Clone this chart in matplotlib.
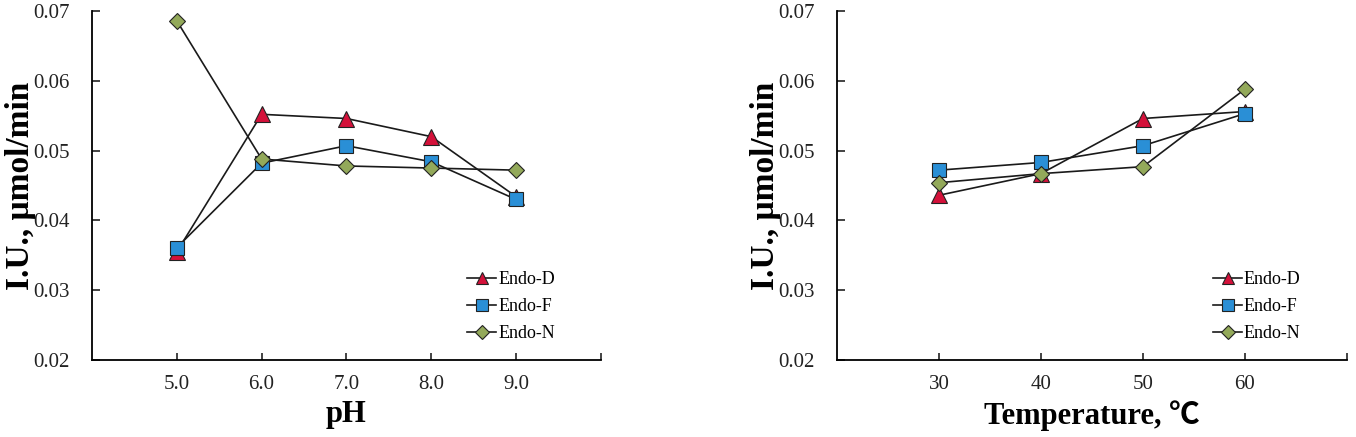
import matplotlib
matplotlib.use("Agg")
import matplotlib.pyplot as plt
from matplotlib.ticker import FixedLocator

plt.rcParams["font.family"] = ["Liberation Serif", "Noto Sans CJK SC", "DejaVu Serif"]

series = ["Endo-D", "Endo-F", "Endo-N"]

ph = [5.0, 6.0, 7.0, 8.0, 9.0]
ph_labels = ["5.0", "6.0", "7.0", "8.0", "9.0"]
ph_endo_d = [0.0355, 0.0552, 0.0546, 0.0520, 0.0434]
ph_endo_f = [0.0361, 0.0482, 0.0507, 0.0484, 0.0430]
ph_endo_n = [0.0686, 0.0488, 0.0478, 0.0475, 0.0472]

temp = [30, 40, 50, 60]
temp_labels = ["30", "40", "50", "60"]
temp_endo_d = [0.0436, 0.0467, 0.0546, 0.0556]
temp_endo_f = [0.0472, 0.0483, 0.0507, 0.0553]
temp_endo_n = [0.0454, 0.0467, 0.0477, 0.0588]

y_ticks = [0.02, 0.03, 0.04, 0.05, 0.06, 0.07]

styles = {
    "Endo-D": dict(marker="^", mfc="#d4113a", ms=11),
    "Endo-F": dict(marker="s", mfc="#2a8fd6", ms=10),
    "Endo-N": dict(marker="D", mfc="#93a95a", ms=8),
}


def draw(ax, x, ys, labels, xlim, xlabel):
    for name, y in zip(series, ys):
        st = styles[name]
        ax.plot(x, y, color="#1a1a1a", lw=1.2, marker=st["marker"],
                mfc=st["mfc"], mec="#222222", mew=0.8, ms=st["ms"], label=name)
    ax.set_xlim(*xlim)
    ax.set_ylim(0.02, 0.07)
    ax.set_xticks(x)
    ax.set_xticklabels(labels)
    ax.xaxis.set_minor_locator(FixedLocator([xlim[1]]))
    ax.set_yticks(y_ticks)
    ax.set_yticklabels([f"{v:.2f}" for v in y_ticks])
    for s in ("top", "right"):
        ax.spines[s].set_visible(False)
    for s in ("left", "bottom"):
        ax.spines[s].set_linewidth(1.3)
    ax.tick_params(axis="x", which="both", direction="in", length=5, width=1.2,
                   labelsize=15, pad=11, colors="#222222")
    ax.tick_params(axis="y", direction="in", length=6, width=1.2,
                   labelsize=15, pad=16, colors="#222222")
    ax.set_ylabel("I.U., μmol/min", fontsize=24, fontweight="bold")
    # label sits a fixed distance left of the axis, as in the original
    ax.yaxis.set_label_coords(-0.11, 0.5)
    ax.set_xlabel(xlabel, fontsize=22, fontweight="bold", labelpad=4)
    ax.legend(loc="upper left", bbox_to_anchor=(0.72, 0.28), frameon=False,
              fontsize=13, handlelength=1.6, handletextpad=0.1,
              labelspacing=0.55, markerscale=0.85, borderpad=0)


fig = plt.figure(figsize=(13.56, 4.37), dpi=100)
ax1 = fig.add_axes([0.0678, 0.1762, 0.3754, 0.7986])
ax2 = fig.add_axes([0.6172, 0.1762, 0.3761, 0.7986])

draw(ax1, ph, [ph_endo_d, ph_endo_f, ph_endo_n], ph_labels, (4, 10), "pH")
draw(ax2, temp, [temp_endo_d, temp_endo_f, temp_endo_n], temp_labels, (20, 70),
     "Temperature, ℃")

fig.savefig("out.png", dpi=100)
